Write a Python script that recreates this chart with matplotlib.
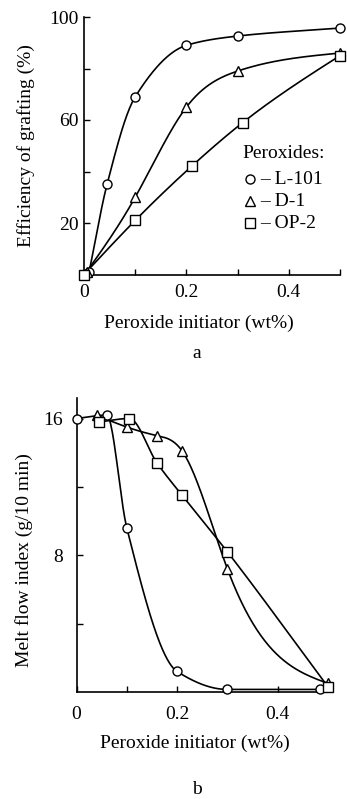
import numpy as np
import matplotlib
matplotlib.use("Agg")
import matplotlib.pyplot as plt

plt.rcParams['font.family'] = ['Liberation Serif', 'DejaVu Serif']

# ---- Panel a: Efficiency of grafting ----
a_l101_x = [0.01, 0.045, 0.1, 0.2, 0.3, 0.5]
a_l101_y = [1, 35, 69, 89, 92.6, 95.7]
a_d1_x = [0.005, 0.1, 0.2, 0.3, 0.5]
a_d1_y = [1, 30, 65, 79, 86]
a_op2_x = [0.0, 0.1, 0.21, 0.31, 0.5]
a_op2_y = [0, 21, 42, 59, 85]

# ---- Panel b: Melt flow index ----
b_l101_x = [0.0, 0.06, 0.1, 0.2, 0.3, 0.485]
b_l101_y = [16.0, 16.2, 9.6, 1.2, 0.15, 0.15]
b_d1_x = [0.04, 0.1, 0.16, 0.21, 0.3, 0.5]
b_d1_y = [16.2, 15.5, 15.0, 14.1, 7.2, 0.5]
b_op2_x = [0.045, 0.105, 0.16, 0.21, 0.3, 0.5]
b_op2_y = [15.8, 16.0, 13.4, 11.5, 8.2, 0.3]

legend_title = "Peroxides:"
legend_labels = ["L-101", "D-1", "OP-2"]


def pchip(x, y, n=300):
    x = np.asarray(x, float); y = np.asarray(y, float)
    h = np.diff(x); d = np.diff(y) / h
    m = np.zeros_like(y)
    for k in range(1, len(x) - 1):
        if d[k-1] * d[k] > 0:
            w1 = 2*h[k] + h[k-1]; w2 = h[k] + 2*h[k-1]
            m[k] = (w1 + w2) / (w1/d[k-1] + w2/d[k])
    m[0] = d[0]; m[-1] = d[-1]
    return hermite(x, y, m, n)


def spline(x, y, n=300):
    # natural cubic spline slopes
    x = np.asarray(x, float); y = np.asarray(y, float)
    N = len(x); h = np.diff(x)
    A = np.zeros((N, N)); b = np.zeros(N)
    A[0, 0] = 1; A[-1, -1] = 1
    for i in range(1, N - 1):
        A[i, i-1] = h[i-1]; A[i, i] = 2*(h[i-1] + h[i]); A[i, i+1] = h[i]
        b[i] = 3*((y[i+1]-y[i])/h[i] - (y[i]-y[i-1])/h[i-1])
    c = np.linalg.solve(A, b)
    m = np.zeros(N)
    for i in range(N - 1):
        m[i] = (y[i+1]-y[i])/h[i] - h[i]*(2*c[i] + c[i+1])/3
    m[-1] = (y[-1]-y[-2])/h[-1] + h[-1]*(c[-2] + 2*c[-1])/3
    return hermite(x, y, m, n)


def hermite(x, y, m, n):
    h = np.diff(x)
    xs = np.linspace(x[0], x[-1], n)
    idx = np.clip(np.searchsorted(x, xs) - 1, 0, len(x) - 2)
    t = (xs - x[idx]) / h[idx]
    h00 = 2*t**3 - 3*t**2 + 1; h10 = t**3 - 2*t**2 + t
    h01 = -2*t**3 + 3*t**2; h11 = t**3 - t**2
    ys = h00*y[idx] + h10*h[idx]*m[idx] + h01*y[idx+1] + h11*h[idx]*m[idx+1]
    return xs, ys


fig = plt.figure(figsize=(3.47, 7.99), dpi=100)
FS = 14

mk = dict(markerfacecolor='white', markeredgecolor='black', markersize=6.5,
          markeredgewidth=1.0, linestyle='none', clip_on=False, zorder=3)

def style(ax, xpad, ypad):
    for s in ['top', 'right']:
        ax.spines[s].set_visible(False)
    for s in ['left', 'bottom']:
        ax.spines[s].set_linewidth(1.2)
    ax.tick_params(direction='in', length=4, width=1.0, labelsize=FS)
    ax.tick_params(axis='x', pad=xpad)
    ax.tick_params(axis='y', pad=ypad)

# Panel a
axa = fig.add_axes([84/347, 1-274.5/799, 256/347, 257.5/799])
for (xv, yv, m, f) in [(a_l101_x, a_l101_y, 'o', pchip), (a_d1_x, a_d1_y, '^', spline),
                       (a_op2_x, a_op2_y, 's', spline)]:
    xs, ys = f(xv, yv)
    axa.plot(xs, ys, color='black', lw=1.2, clip_on=False)
    axa.plot(xv, yv, marker=m, **mk)
axa.set_xlim(0, 0.5)
axa.set_ylim(0, 100)
style(axa, 7, 4)
axa.set_yticks([20, 40, 60, 80, 100])
axa.set_yticklabels(['20', '', '60', '', '100'])
axa.set_xticks([0, 0.1, 0.2, 0.3, 0.4, 0.5])
axa.set_xticklabels(['0', '', '0.2', '', '0.4', ''])
axa.set_ylabel('Efficiency of grafting (%)', fontsize=FS)
axa.yaxis.set_label_coords(-0.19, 0.5)
axa.set_xlabel('Peroxide initiator (wt%)', fontsize=FS)
axa.xaxis.set_label_coords(0.45, -0.155)

# legend as text
axa.text(0.62, 0.47, legend_title, transform=axa.transAxes, fontsize=FS, va='center')
for i, (lab, m) in enumerate(zip(legend_labels, ['o', '^', 's'])):
    yy = 0.37 - i*0.085
    axa.plot([0.65], [yy], marker=m, transform=axa.transAxes, **mk)
    axa.text(0.69, yy, '– ' + lab, transform=axa.transAxes, fontsize=FS, va='center')

fig.text(197/347, 1-353/799, 'a', fontsize=FS, ha='center', va='center')

# Panel b
axb = fig.add_axes([76.5/347, 1-692/799, 251.5/347, 294/799])
for (xv, yv, m, f) in [(b_l101_x, b_l101_y, 'o', pchip), (b_d1_x, b_d1_y, '^', spline),
                       (b_op2_x, b_op2_y, 's', pchip)]:
    xs, ys = f(xv, yv)
    axb.plot(xs, ys, color='black', lw=1.2, clip_on=False)
    axb.plot(xv, yv, marker=m, **mk)
axb.set_xlim(0, 0.5)
axb.set_ylim(0, 17.2)
style(axb, 10, 10)
axb.set_yticks([4, 8, 12, 16])
axb.set_yticklabels(['', '8', '', '16'])
axb.set_xticks([0, 0.1, 0.2, 0.3, 0.4, 0.5])
axb.set_xticklabels(['0', '', '0.2', '', '0.4', ''])
axb.set_ylabel('Melt flow index (g/10 min)', fontsize=FS)
axb.yaxis.set_label_coords(-0.173, 0.45)
axb.set_xlabel('Peroxide initiator (wt%)', fontsize=FS)
axb.xaxis.set_label_coords(0.47, -0.146)

fig.text(197/347, 1-790/799, 'b', fontsize=FS, ha='center', va='center')

fig.savefig('out.png', dpi=100)
